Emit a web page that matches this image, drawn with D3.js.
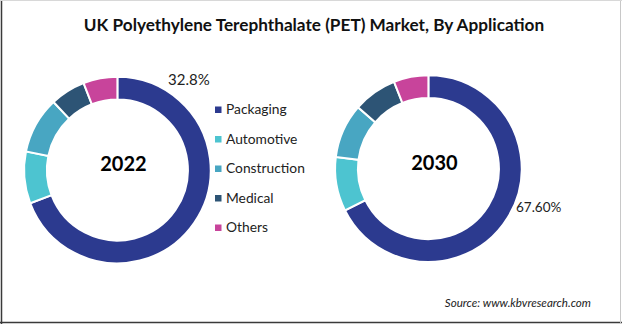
<!DOCTYPE html>
<html>
<head>
<meta charset="utf-8">
<script src="https://cdn.jsdelivr.net/npm/d3@7"></script>
<style>
  html, body { margin: 0; padding: 0; background: #fff; }
  svg { display: block; font-family: Lato, "Open Sans", sans-serif; }
</style>
</head>
<body>
<script>
// Application shares (%) per year
const categories = ['Packaging', 'Automotive', 'Construction', 'Medical', 'Others'];
const years = ['2022', '2030'];
const share2022 = [69.2, 9.0, 9.8, 6.1, 5.9];
const share2030 = [67.6, 9.4, 9.4, 7.6, 6.0];
const colors = ['#2c3a8f', '#4dc4d0', '#48a6c2', '#2d5475', '#c8449b'];

// Canvas
const width = 622;
const height = 324;

// Donut layout
const outerRadius = 93.3;
const innerRadius = 70.5;
const donuts = [
  { year: years[0], values: share2022, cx: 117.4, cy: 170 },
  { year: years[1], values: share2030, cx: 428.4, cy: 168.6 },
];

const svg = d3.select('body')
  .append('svg')
    .attr('width', width)
    .attr('height', height);

// Frame
svg.append('line')
    .attr('x1', 1.5).attr('y1', 0).attr('x2', 1.5).attr('y2', height)
    .attr('stroke', '#3a3a3a').attr('stroke-width', 1.5);
svg.append('line')
    .attr('x1', 0).attr('y1', 322.5).attr('x2', width).attr('y2', 322.5)
    .attr('stroke', '#3a3a3a').attr('stroke-width', 1.5);
svg.append('line')
    .attr('x1', 620.5).attr('y1', 0).attr('x2', 620.5).attr('y2', height)
    .attr('stroke', '#c8c8c8').attr('stroke-width', 1);
svg.append('line')
    .attr('x1', 0).attr('y1', 0.5).attr('x2', width).attr('y2', 0.5)
    .attr('stroke', '#d8d8d8').attr('stroke-width', 1);

// Title
svg.append('text')
    .attr('x', 314)
    .attr('y', 31)
    .attr('text-anchor', 'middle')
    .attr('font-size', 17.2)
    .attr('font-weight', 'bold')
    .attr('fill', '#111')
    .text('UK Polyethylene Terephthalate (PET) Market, By Application');

const color = d3.scaleOrdinal().domain(categories).range(colors);

const pie = d3.pie()
  .sort(null)
  .value((d) => d.value);

const arc = d3.arc()
  .innerRadius(innerRadius)
  .outerRadius(outerRadius);

const groups = svg.selectAll('g.donut')
    .data(donuts)
  .enter().append('g')
    .attr('class', 'donut')
    .attr('transform', (d) => `translate(${d.cx}, ${d.cy})`);

groups.selectAll('path')
    .data((d) => pie(categories.map((c, i) => ({ key: c, value: d.values[i] }))))
  .enter().append('path')
    .attr('d', arc)
    .attr('fill', (d) => color(d.data.key))
    .attr('stroke', '#fff')
    .attr('stroke-width', 2);

// Year in the middle
groups.append('text')
    .attr('x', 6)
    .attr('y', -6)
    .attr('dy', '0.35em')
    .attr('text-anchor', 'middle')
    .attr('font-size', 20)
    .attr('font-weight', 'bold')
    .attr('fill', '#000')
    .text((d) => d.year);

// Value labels
svg.append('text')
    .attr('x', 168)
    .attr('y', 85)
    .attr('font-size', 15)
    .attr('fill', '#222')
    .text('32.8%');

svg.append('text')
    .attr('x', 516)
    .attr('y', 212)
    .attr('font-size', 13.5)
    .attr('fill', '#222')
    .text(d3.format('.2f')(share2030[0]) + '%');

// Legend
const legend = svg.selectAll('g.legend')
    .data(categories)
  .enter().append('g')
    .attr('class', 'legend')
    .attr('transform', (d, i) => `translate(215, ${109.5 + i * 29.5})`);

legend.append('rect')
    .attr('x', 0)
    .attr('y', -3)
    .attr('width', 6.5)
    .attr('height', 6.5)
    .attr('fill', (d) => color(d));

legend.append('text')
    .attr('x', 11)
    .attr('y', 0)
    .attr('dy', '0.35em')
    .attr('font-size', 13.8)
    .attr('fill', '#222')
    .text((d) => d);

// Source note
svg.append('text')
    .attr('x', 591)
    .attr('y', 307)
    .attr('text-anchor', 'end')
    .attr('font-size', 11.6)
    .attr('font-style', 'italic')
    .attr('fill', '#222')
    .text('Source: www.kbvresearch.com');
</script>
</body>
</html>
